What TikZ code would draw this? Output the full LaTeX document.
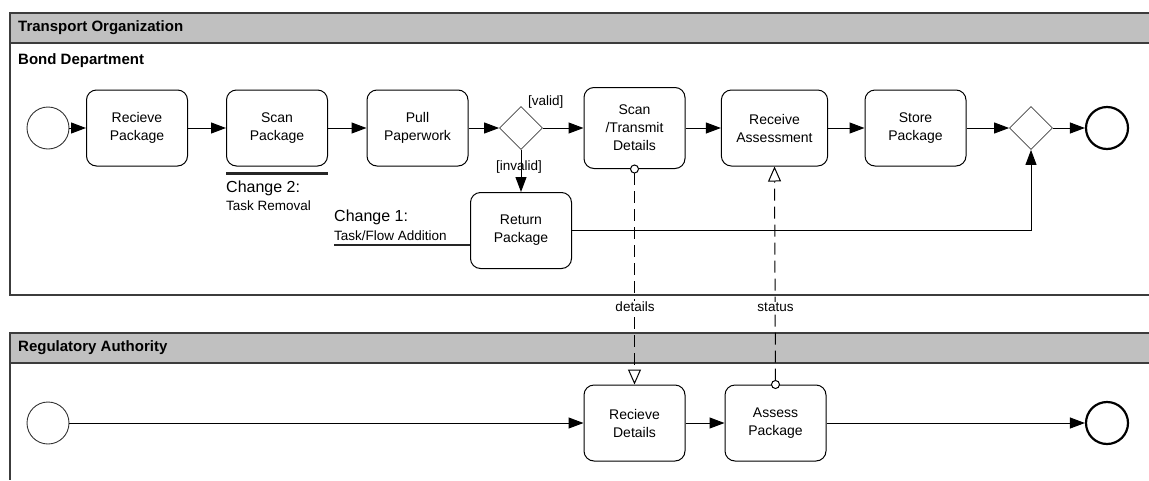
\documentclass[tikz,border=0pt]{standalone}
\usepackage{fontspec}
\setmainfont{Liberation Sans}
\usepackage{tikz}
\usetikzlibrary{positioning}
\usetikzlibrary{arrows.meta,shapes.geometric}
\definecolor{headgray}{RGB}{192,192,192}
\definecolor{poolline}{RGB}{60,60,60}
\tikzstyle{task}=[rectangle,rounded corners=10pt,draw=black,line width=1pt,minimum width=101pt,minimum height=76pt,inner xsep=15pt,align=center,font=\fontsize{14}{18}\selectfont]
\tikzstyle{gateway}=[diamond,draw=black!75,line width=0.8pt,minimum width=43pt,minimum height=43pt,inner sep=0pt]
\tikzstyle{startevent}=[circle,draw=black!80,line width=0.9pt,minimum size=42pt,inner sep=0pt]
\tikzstyle{endevent}=[circle,draw=black,line width=2.2pt,minimum size=42pt,inner sep=0pt]
\tikzstyle{flow} = [draw,line width=1pt,-{Triangle[length=15pt,width=11pt]}]
\tikzstyle{msgflow} = [draw,line width=1pt,dash pattern=on 12pt off 6pt,{Circle[fill=white,length=9pt]}-{Triangle[open,fill=white,length=15pt,width=13pt]}]
\tikzstyle{weight} = [font=\fontsize{13.5}{16}\selectfont,inner sep=1pt]
\tikzstyle{pool} = [draw=poolline,line width=1.4pt]
\tikzstyle{lanetitle} = [anchor=west,inner sep=0pt,font=\fontsize{15}{18}\selectfont\bfseries]
\tikzstyle{annot} = [draw=black!85,line width=2.8pt]

\begin{document}
\begin{tikzpicture}[x=1pt,y=-1pt]

  \useasboundingbox (0,0) rectangle (1149,480);

  % pools
  \fill[headgray] (10,13) rectangle (1149,43);
  \draw[pool] (1149,13) -- (10,13) -- (10,295) -- (1149,295);
  \draw[pool] (10,43) -- (1149,43);
  \fill[headgray] (10,333) rectangle (1149,363);
  \draw[pool] (1149,333) -- (10,333) -- (10,480);
  \draw[pool] (10,363) -- (1149,363);

  \node[lanetitle] (transport) at (18,28) {Transport Organization};
  \node[lanetitle] (bond) at (18,61) {Bond Department};
  \node[lanetitle] (regulatory) at (18,348) {Regulatory Authority};

   \foreach \x/\y/\name in {48/128/start1, 48/423/start2}
          \node[startevent] (\name) at (\x,\y) {};

   \foreach \x/\y/\name in {1107/128/end1, 1107/423/end2}
          \node[endevent] (\name) at (\x,\y) {};

   \foreach \x/\y/\name in {521/128/gw1, 1031/128/gw2}
          \node[gateway] (\name) at (\x,\y) {};

   \foreach \x/\y/\name/\label/\second in {137/128/recpkg/Recieve/Package, 277/128/scanpkg/Scan/Package,
          417.5/128/pullpw/Pull/Paperwork, 774.5/128/recass/Receive/Assessment, 915.5/128/storepkg/Store/Package,
          521/230.5/retpkg/Return/Package, 634.5/423/recdet/Recieve/Details, 775.5/423/asspkg/Assess/Package}
          \node[task] (\name) at (\x,\y) {\label\\\second};

   \node[task, minimum height=81pt] (sctd) at (634.5,128) {Scan\\/Transmit\\Details};

  \foreach \source/\dest in {start1/recpkg, recpkg/scanpkg, scanpkg/pullpw, pullpw/gw1, gw1/sctd, sctd/recass,
         recass/storepkg, storepkg/gw2, gw2/end1, start2/recdet, recdet/asspkg, asspkg/end2}
         \draw[flow] (\source) -- (\dest);

   \draw[flow] (gw1.south) -- (retpkg.north);
   \draw[flow] (retpkg.east) -| (gw2.south);

   \node[weight, anchor=west] (valid) at (527,102) {[valid]};
   \node[weight] (invalid) at (519,167) {[invalid]};

   % message flows
   \draw[msgflow] ([yshift=4.5pt]sctd.south) -- (recdet.north);
   \draw[msgflow] ([yshift=-4.5pt]asspkg.north) -- (recass.south);
   \node[weight, fill=white] (details) at (635,307) {details};
   \node[weight, fill=white] (status) at (775.5,307) {status};

   % changes
   \draw[annot] (scanpkg.south west) ++(0,7) coordinate (chg2) -- (chg2 -| scanpkg.south east);
   \node[weight, anchor=west, inner sep=0pt, font=\fontsize{16}{18}\selectfont] (change2) at (226,188) {Change 2:};
   \node[weight, anchor=west, inner sep=0pt] (removal) at (226,206) {Task Removal};

   \coordinate (chg1) at (334,245);
   \draw[annot] (chg1) -- (chg1 -| retpkg.west);
   \node[weight, anchor=west, inner sep=0pt, font=\fontsize{16}{18}\selectfont] (change1) at (334,217) {Change 1:};
   \node[weight, anchor=west, inner sep=0pt] (addition) at (334,236) {Task/Flow Addition};

   \end{tikzpicture}
\end{document}
